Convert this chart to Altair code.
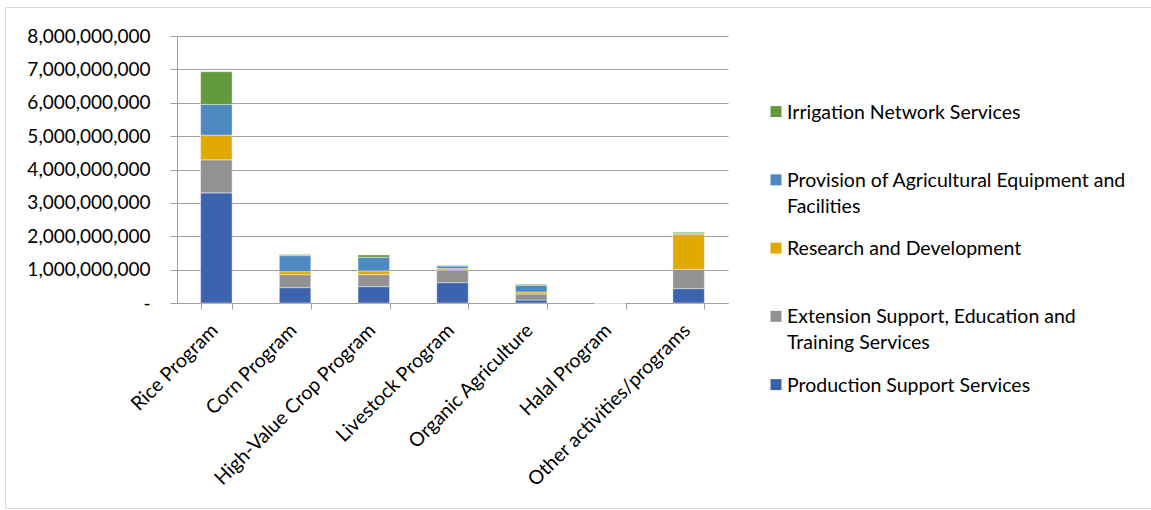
import altair as alt
import pandas as pd

# Programme categories along the x axis
categories = [
    "Rice Program",
    "Corn Program",
    "High-Value Crop Program",
    "Livestock Program",
    "Organic Agriculture",
    "Halal Program",
    "Other activities/programs",
]

# Budget per service line (PHP), stacked bottom to top in this order
series_names = [
    "Production Support Services",
    "Extension Support, Education and Training Services",
    "Research and Development",
    "Provision of Agricultural Equipment and Facilities",
    "Irrigation Network Services",
]
production = [3.30e9, 0.46e9, 0.49e9, 0.61e9, 0.09e9, 0.003e9, 0.43e9]
extension = [0.99e9, 0.39e9, 0.36e9, 0.38e9, 0.18e9, 0.006e9, 0.58e9]
research = [0.74e9, 0.09e9, 0.11e9, 0.04e9, 0.06e9, 0.0, 1.05e9]
equipment = [0.92e9, 0.48e9, 0.41e9, 0.08e9, 0.20e9, 0.002e9, 0.03e9]
irrigation = [0.98e9, 0.03e9, 0.07e9, 0.01e9, 0.03e9, 0.0, 0.03e9]

series_colors = ["#3C64AE", "#929292", "#E2AA00", "#4E8AC0", "#62993E"]

# Legend entries, top to bottom, with their wrapped labels
legend_order = [
    "Irrigation Network Services",
    "Provision of Agricultural Equipment and Facilities",
    "Research and Development",
    "Extension Support, Education and Training Services",
    "Production Support Services",
]
legend_labels = [
    "Irrigation Network Services",
    "Provision of Agricultural Equipment and\nFacilities",
    "Research and Development",
    "Extension Support, Education and\nTraining Services",
    "Production Support Services",
]

y_ticks = [0, 1e9, 2e9, 3e9, 4e9, 5e9, 6e9, 7e9, 8e9]

FONT = "Lato"
FS = 19.5
FS_Y = 19

rows = []
for k, (name, vals) in enumerate(
    zip(series_names, [production, extension, research, equipment, irrigation])
):
    for cat, v in zip(categories, vals):
        rows.append({"category": cat, "series": name, "value": v, "stack": k})
df = pd.DataFrame(rows)

legend_df = pd.DataFrame({"series": legend_order, "label": legend_labels})

color_scale = alt.Scale(domain=series_names, range=series_colors)

bars = (
    alt.Chart(df)
    .mark_bar(stroke="#FFFFFF", strokeWidth=0.7, strokeOpacity=0.6)
    .encode(
        x=alt.X(
            "category:N",
            sort=categories,
            title=None,
            scale=alt.Scale(paddingInner=0.6, paddingOuter=0.3),
            axis=alt.Axis(
                labelAngle=-45,
                labelAlign="right",
                labelBaseline="middle",
                labelPadding=18,
                labelOffset=-2,
                labelFont=FONT,
                labelFontSize=FS,
                labelColor="#000000",
                labelLimit=0,
                tickBand="extent",
                tickSize=6,
                tickColor="#A0A0A0",
                domainColor="#A0A0A0",
                grid=False,
            ),
        ),
        y=alt.Y(
            "value:Q",
            stack="zero",
            title=None,
            scale=alt.Scale(domain=[0, 8e9], nice=False),
            axis=alt.Axis(
                values=y_ticks,
                labelExpr="datum.value == 0 ? '-    ' : format(datum.value, ',')",
                labelFont=FONT,
                labelFontSize=FS_Y,
                labelColor="#000000",
                labelPadding=20,
                tickSize=7,
                tickColor="#A0A0A0",
                domainColor="#A0A0A0",
                gridColor="#A0A0A0",
                grid=True,
            ),
        ),
        color=alt.Color("series:N", scale=color_scale, legend=None),
        order=alt.Order("stack:Q", sort="ascending"),
    )
)

legend_y = alt.Y(
    "series:N",
    scale=alt.Scale(type="point", domain=legend_order, range=[75.6, 348.6], padding=0),
    axis=None,
)

legend_swatches = (
    alt.Chart(legend_df)
    .mark_square(size=121, opacity=1)
    .encode(
        x=alt.value(599),
        y=legend_y,
        color=alt.Color("series:N", scale=color_scale, legend=None),
    )
)

legend_text = (
    alt.Chart(legend_df)
    .mark_text(
        align="left",
        baseline="alphabetic",
        dy=7,
        lineBreak="\n",
        lineHeight=26,
        font=FONT,
        fontSize=FS,
        color="#000000",
    )
    .encode(x=alt.value(610), y=legend_y, text="label:N")
)

# Light frame around the figure (its right edge runs past the page)
frame = (
    alt.Chart(pd.DataFrame({"f": [0]}))
    .mark_rect(fillOpacity=0, stroke="#D9D9D9", strokeWidth=1)
    .encode(
        x=alt.value(-171.5),
        x2=alt.value(985),
        y=alt.value(-28.5),
        y2=alt.value(472.5),
    )
)

chart = (
    alt.layer(frame, bars, legend_swatches, legend_text)
    .resolve_scale(y="independent")
    .properties(
        width=551,
        height=267,
        padding={"left": 177, "top": 36, "right": 423, "bottom": 207},
        autosize=alt.AutoSizeParams(type="none"),
        background="#FFFFFF",
    )
    .configure_view(strokeWidth=0)
)

chart.save("out.html", embed_options={"renderer": "svg", "actions": False})
